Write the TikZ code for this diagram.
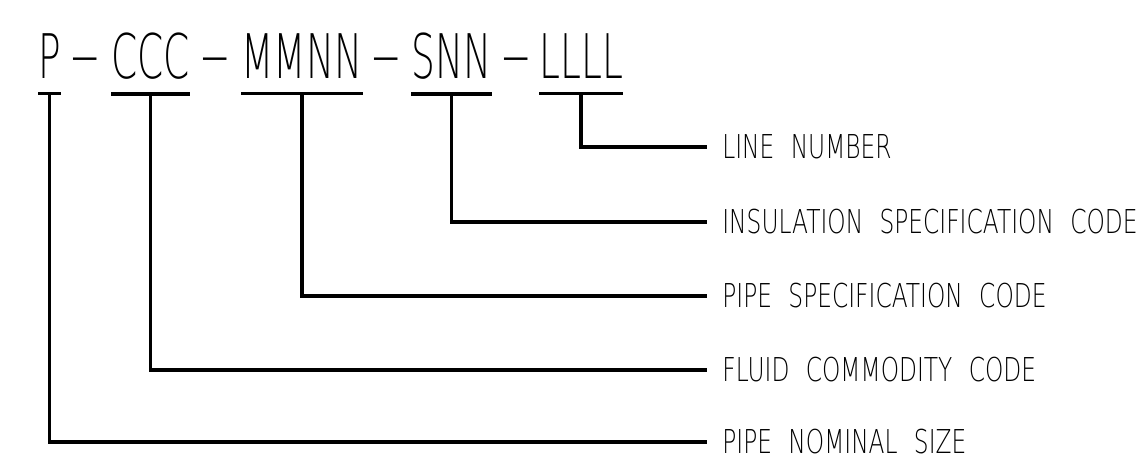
\documentclass[tikz,border=0pt]{standalone}
\usepackage{fontspec}
\newfontfamily\codefont{DejaVu Sans ExtraLight}[FakeStretch=0.61]
\newfontfamily\cadfont{DejaVu Sans ExtraLight}[FakeStretch=0.71,WordSpace=2.2]

\begin{document}
\begin{tikzpicture}[
  code/.style={anchor=base west, inner sep=0pt, font=\codefont\fontsize{35}{42}\selectfont},
  lbl/.style={anchor=west, inner xsep=0.3cm, inner ysep=0pt, font=\cadfont\fontsize{18.7}{22}\selectfont},
  lead/.style={line width=2pt}
]
  \useasboundingbox (0,0) rectangle (22.9,9.18);

  \node[code] (p)    at (0.76, 7.60)  {P};
  \node[code] (d1)   at (1.38, 7.60)  {−};
  \node[code] (ccc)  at (2.22, 7.60)  {CCC};
  \node[code] (d2)   at (3.98, 7.60)  {−};
  \node[code] (mmnn) at (4.82, 7.60)  {MMNN};
  \node[code] (d3)   at (7.40, 7.60)  {−};
  \node[code] (snn)  at (8.22, 7.60)  {SNN};
  \node[code] (d4)   at (10.00, 7.60) {−};
  \node[code] (llll) at (10.78, 7.60) {LLLL};

  \node[lbl] (num)  at (14.14, 6.24) {LINE NUMBER};
  \node[lbl] (ins)  at (14.14, 4.74) {INSULATION SPECIFICATION CODE};
  \node[lbl] (spec) at (14.14, 3.26) {PIPE SPECIFICATION CODE};
  \node[lbl] (flu)  at (14.14, 1.78) {FLUID COMMODITY CODE};
  \node[lbl] (size) at (14.14, 0.34) {PIPE NOMINAL SIZE};

  \draw[lead] ([yshift=-0.28cm]p.south west) -- ([yshift=-0.28cm]p.south east);
  \draw[lead] ([yshift=-0.28cm]ccc.south west) -- ([yshift=-0.28cm]ccc.south east);
  \draw[lead] ([yshift=-0.28cm]mmnn.south west) -- ([yshift=-0.28cm]mmnn.south east);
  \draw[lead] ([yshift=-0.28cm]snn.south west) -- ([yshift=-0.28cm]snn.south east);
  \draw[lead] ([yshift=-0.28cm]llll.south west) -- ([yshift=-0.28cm]llll.south east);

  \draw[lead] ([yshift=-0.28cm]llll.south) |- (num.west);
  \draw[lead] ([yshift=-0.28cm]snn.south) |- (ins.west);
  \draw[lead] ([yshift=-0.28cm]mmnn.south) |- (spec.west);
  \draw[lead] ([yshift=-0.28cm]ccc.south) |- (flu.west);
  \draw[lead] ([yshift=-0.28cm]p.south) |- (size.west);
\end{tikzpicture}
\end{document}
